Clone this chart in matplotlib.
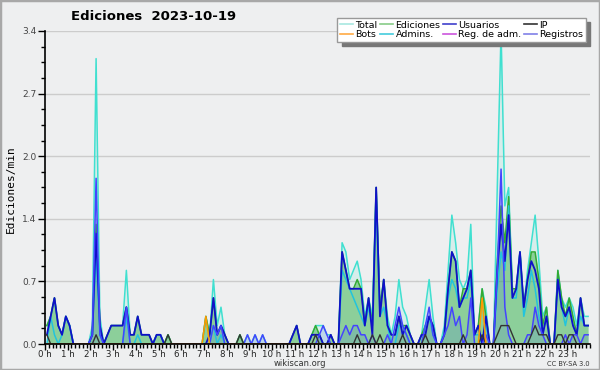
import matplotlib
matplotlib.use('Agg')
import matplotlib.pyplot as plt
from matplotlib.lines import Line2D
from matplotlib.patches import Rectangle
from matplotlib.ticker import MultipleLocator
import numpy as np

# ediciones/min, un valor cada 10 minutos (0:00 ... 23:50), 12 valores = 2 horas por fila
total = [
    0.2, 0.3, 0.5, 0.2, 0.1, 0.3, 0.2, 0, 0, 0, 0, 0,
    0.2, 3.1, 0.3, 0, 0.1, 0.2, 0.2, 0.2, 0.2, 0.8, 0.1, 0.1,
    0.3, 0.1, 0.1, 0.1, 0, 0.1, 0.1, 0, 0.1, 0, 0, 0,
    0, 0, 0, 0, 0, 0, 0.3, 0.1, 0.7, 0.2, 0.4, 0.1,
    0, 0, 0, 0.1, 0, 0.1, 0, 0.1, 0, 0.1, 0, 0,
    0, 0, 0, 0, 0, 0.1, 0.2, 0, 0, 0, 0.1, 0.2,
    0.2, 0.2, 0.1, 0.1, 0, 0, 1.1, 1.0, 0.7, 0.8, 0.9, 0.7,
    0.3, 0.5, 0.3, 1.7, 0.4, 0.7, 0.3, 0.1, 0.3, 0.7, 0.4, 0.3,
    0.1, 0, 0, 0.1, 0.4, 0.7, 0.3, 0, 0, 0.2, 0.8, 1.4,
    1.1, 0.7, 0.6, 0.7, 1.3, 0.1, 0.2, 0.6, 0.4, 0, 0, 1.7,
    3.4, 1.5, 1.7, 0.6, 0.6, 1.0, 0.4, 0.8, 1.1, 1.4, 0.9, 0.3,
    0.4, 0, 0, 0.8, 0.5, 0.4, 0.5, 0.4, 0.2, 0.5, 0.3, 0.3,
]
ediciones = [
    0.2, 0.3, 0.5, 0.2, 0.1, 0.3, 0.2, 0, 0, 0, 0, 0,
    0.1, 1.3, 0.2, 0, 0.1, 0.2, 0.2, 0.2, 0.2, 0.4, 0.1, 0.1,
    0.3, 0.1, 0.1, 0.1, 0, 0.1, 0.1, 0, 0.1, 0, 0, 0,
    0, 0, 0, 0, 0, 0, 0.3, 0.1, 0.5, 0.1, 0.2, 0.1,
    0, 0, 0, 0.1, 0, 0, 0, 0, 0, 0, 0, 0,
    0, 0, 0, 0, 0, 0.1, 0.2, 0, 0, 0, 0.1, 0.2,
    0.1, 0, 0, 0.1, 0, 0, 1.0, 0.8, 0.6, 0.6, 0.7, 0.6,
    0.2, 0.5, 0.2, 1.7, 0.4, 0.7, 0.2, 0.1, 0.1, 0.3, 0.2, 0.2,
    0.1, 0, 0, 0.1, 0.2, 0.3, 0.2, 0, 0, 0.1, 0.6, 1.0,
    0.9, 0.4, 0.6, 0.6, 0.8, 0.1, 0.2, 0.6, 0.3, 0, 0, 0.9,
    1.5, 1.1, 1.6, 0.6, 0.6, 1.0, 0.4, 0.7, 1.0, 1.0, 0.7, 0.2,
    0.4, 0, 0, 0.8, 0.5, 0.3, 0.5, 0.3, 0.1, 0.5, 0.2, 0.2,
]
usuarios = [
    0.1, 0.3, 0.5, 0.2, 0.1, 0.3, 0.2, 0, 0, 0, 0, 0,
    0.1, 1.2, 0.2, 0, 0.1, 0.2, 0.2, 0.2, 0.2, 0.4, 0.1, 0.1,
    0.3, 0.1, 0.1, 0.1, 0, 0.1, 0.1, 0, 0, 0, 0, 0,
    0, 0, 0, 0, 0, 0, 0, 0.1, 0.5, 0.1, 0.2, 0.1,
    0, 0, 0, 0, 0, 0, 0, 0, 0, 0, 0, 0,
    0, 0, 0, 0, 0, 0.1, 0.2, 0, 0, 0, 0.1, 0.1,
    0.1, 0, 0, 0.1, 0, 0, 1.0, 0.8, 0.6, 0.6, 0.6, 0.6,
    0.2, 0.5, 0.1, 1.7, 0.3, 0.7, 0.2, 0.1, 0.1, 0.3, 0.1, 0.2,
    0.1, 0, 0, 0.1, 0.1, 0.3, 0.2, 0, 0, 0.1, 0.6, 1.0,
    0.9, 0.4, 0.5, 0.6, 0.8, 0.1, 0.2, 0, 0.3, 0, 0, 0.8,
    1.3, 0.9, 1.4, 0.5, 0.6, 1.0, 0.4, 0.7, 0.9, 0.8, 0.6, 0.1,
    0.3, 0, 0, 0.7, 0.4, 0.3, 0.4, 0.2, 0.1, 0.5, 0.2, 0.2,
]
ip = [
    0.1, 0, 0, 0, 0, 0, 0, 0, 0, 0, 0, 0,
    0, 0.1, 0, 0, 0, 0, 0, 0, 0, 0, 0, 0,
    0, 0, 0, 0, 0, 0, 0, 0, 0.1, 0, 0, 0,
    0, 0, 0, 0, 0, 0, 0, 0, 0, 0, 0, 0,
    0, 0, 0, 0.1, 0, 0, 0, 0, 0, 0, 0, 0,
    0, 0, 0, 0, 0, 0, 0, 0, 0, 0, 0, 0.1,
    0, 0, 0, 0, 0, 0, 0, 0, 0, 0, 0.1, 0,
    0, 0, 0.1, 0, 0.1, 0, 0, 0, 0, 0, 0.1, 0,
    0, 0, 0, 0, 0.1, 0, 0, 0, 0, 0, 0, 0,
    0, 0, 0.1, 0, 0, 0, 0, 0.1, 0, 0, 0, 0.1,
    0.2, 0.2, 0.2, 0.1, 0, 0, 0, 0, 0.1, 0.2, 0.1, 0.1,
    0.1, 0, 0, 0.1, 0.1, 0, 0.1, 0.1, 0, 0, 0, 0,
]
bots = [
    0, 0, 0, 0, 0, 0, 0, 0, 0, 0, 0, 0,
    0, 0, 0, 0, 0, 0, 0, 0, 0, 0, 0, 0,
    0, 0, 0, 0, 0, 0, 0, 0, 0, 0, 0, 0,
    0, 0, 0, 0, 0, 0, 0.3, 0, 0, 0, 0, 0,
    0, 0, 0, 0, 0, 0, 0, 0, 0, 0, 0, 0,
    0, 0, 0, 0, 0, 0, 0, 0, 0, 0, 0, 0,
    0, 0, 0, 0, 0, 0, 0, 0, 0, 0, 0, 0,
    0, 0, 0, 0, 0, 0, 0, 0, 0, 0, 0, 0,
    0, 0, 0, 0, 0, 0, 0, 0, 0, 0, 0, 0,
    0, 0, 0, 0, 0, 0, 0, 0.5, 0, 0, 0, 0,
    0, 0, 0, 0, 0, 0, 0, 0, 0, 0, 0, 0,
    0, 0, 0, 0, 0, 0, 0, 0, 0, 0, 0, 0,
]
admins = [
    0, 0.3, 0.1, 0, 0.1, 0.3, 0.2, 0, 0, 0, 0, 0,
    0.1, 1.0, 0.1, 0, 0, 0, 0, 0, 0, 0.3, 0, 0,
    0.1, 0, 0, 0, 0, 0.1, 0.1, 0, 0, 0, 0, 0,
    0, 0, 0, 0, 0, 0, 0, 0, 0.2, 0, 0.1, 0,
    0, 0, 0, 0, 0, 0, 0, 0, 0, 0, 0, 0,
    0, 0, 0, 0, 0, 0, 0, 0, 0, 0, 0, 0,
    0, 0, 0, 0, 0, 0, 0.8, 0.7, 0.6, 0.5, 0.4, 0.3,
    0.2, 0.4, 0.2, 1.6, 0.3, 0.4, 0.2, 0, 0, 0.2, 0.2, 0.1,
    0, 0, 0, 0, 0.2, 0.3, 0.1, 0, 0, 0.1, 0.5, 0.7,
    0.6, 0.4, 0.5, 0.5, 0.7, 0.1, 0.1, 0, 0.2, 0, 0, 0.6,
    1.0, 0.8, 1.5, 0.5, 0.5, 1.0, 0.3, 0.5, 0.8, 0.6, 0.3, 0.1,
    0.3, 0, 0, 0.7, 0.4, 0.2, 0.4, 0.2, 0.1, 0.3, 0.2, 0.2,
]
reg_adm = [
    0, 0, 0, 0, 0, 0, 0, 0, 0, 0, 0, 0,
    0, 0, 0, 0, 0, 0, 0, 0, 0, 0, 0, 0,
    0, 0, 0, 0, 0, 0, 0, 0, 0, 0, 0, 0,
    0, 0, 0, 0, 0, 0, 0, 0, 0, 0, 0, 0,
    0, 0, 0, 0, 0, 0, 0, 0, 0, 0, 0, 0,
    0, 0, 0, 0, 0, 0, 0, 0, 0, 0, 0, 0,
    0, 0, 0, 0, 0, 0, 0, 0, 0, 0, 0, 0,
    0, 0, 0, 0, 0, 0, 0, 0, 0, 0, 0, 0,
    0, 0, 0, 0, 0, 0, 0, 0, 0, 0, 0, 0,
    0, 0, 0, 0, 0, 0, 0, 0, 0, 0, 0, 0,
    0, 0, 0, 0, 0, 0, 0, 0, 0, 0, 0, 0,
    0, 0, 0, 0, 0, 0, 0, 0, 0, 0, 0, 0,
]
registros = [
    0, 0, 0, 0, 0, 0, 0, 0, 0, 0, 0, 0,
    0.1, 1.8, 0.1, 0, 0, 0, 0, 0, 0, 0.4, 0, 0,
    0, 0, 0, 0, 0, 0, 0, 0, 0, 0, 0, 0,
    0, 0, 0, 0, 0, 0, 0, 0, 0.2, 0.1, 0.2, 0,
    0, 0, 0, 0, 0, 0.1, 0, 0.1, 0, 0.1, 0, 0,
    0, 0, 0, 0, 0, 0, 0, 0, 0, 0, 0, 0,
    0.1, 0.2, 0.1, 0, 0, 0, 0.1, 0.2, 0.1, 0.2, 0.2, 0.1,
    0.1, 0, 0.1, 0, 0, 0, 0.1, 0, 0.2, 0.4, 0.2, 0.1,
    0, 0, 0, 0, 0.2, 0.4, 0.1, 0, 0, 0.1, 0.2, 0.4,
    0.2, 0.3, 0, 0.1, 0.5, 0, 0, 0, 0.1, 0, 0, 0.8,
    1.9, 0.4, 0.1, 0, 0, 0, 0, 0.1, 0.1, 0.4, 0.2, 0.1,
    0, 0, 0, 0, 0, 0.1, 0, 0.1, 0.1, 0, 0.1, 0.1,
]

hour_labels = [f"{h} h" for h in range(24)]
y_ticks = [0, 0.68, 1.36, 2.04, 2.72, 3.4]

# cada punto al centro de su intervalo de 10 min, en horas
x = (np.arange(len(total)) + 0.5) / 6.0

bg = '#eeeff0'
fig = plt.figure(figsize=(6, 3.7), dpi=100, facecolor=bg)
ax = fig.add_axes([45 / 600, 26 / 370, 545 / 600, 313 / 370])
ax.set_facecolor(bg)

# rellenos
ax.fill_between(x, total, color='#40e0d0', alpha=0.13, lw=0)
ax.fill_between(x, ediciones, color='#3cb043', alpha=0.48, lw=0)
ax.fill_between(x, registros, color='#4060e0', alpha=0.16, lw=0)

# lineas
ax.plot(x, total, color='#40e0d0', lw=1.1)
ax.plot(x, ediciones, color='#33aa33', lw=1.1)
ax.plot(x, admins, color='#22c4dd', lw=1.1)
ax.plot(x, usuarios, color='#1010c8', lw=1.3)
ax.plot(x, registros, color='#4444ff', lw=1.1)
ax.plot(x, ip, color='#333333', lw=1.0)
ax.plot(x, bots, color='#ff9900', lw=1.1)
ax.plot(x, reg_adm, color='#cc44dd', lw=1.0)

ax.set_xlim(0, 24)
ax.set_ylim(0, 3.4)
ax.set_xticks(range(24))
ax.set_xticklabels(hour_labels)
ax.xaxis.set_minor_locator(MultipleLocator(1 / 6))
ax.set_yticks(y_ticks)
ax.set_yticklabels([f"{v:.1f}" for v in y_ticks])
ax.yaxis.set_minor_locator(MultipleLocator(0.17))
ax.grid(axis='y', color='#cccccc', lw=1)
ax.set_axisbelow(True)

for s in ['top', 'right']:
    ax.spines[s].set_visible(False)
for s in ['left', 'bottom']:
    ax.spines[s].set_linewidth(1.2)
    ax.spines[s].set_zorder(5)

ax.tick_params(axis='y', which='major', length=5, width=1, labelsize=6.5,
               labelcolor='#444444', pad=1)
ax.tick_params(axis='y', which='minor', length=3, width=1)
ax.tick_params(axis='x', which='major', length=4, width=1, labelsize=6.2,
               labelcolor='#222222', pad=0)
ax.tick_params(axis='x', which='minor', length=3, width=1)

# textos
fig.text(154 / 600, 1 - 17 / 370, "Ediciones  2023-10-19", ha='center', va='center',
         fontsize=9.5, fontweight='bold')
fig.text(11 / 600, 1 - 189 / 370, "Ediciones/min", rotation=90, ha='center', va='center',
         fontsize=8, family='DejaVu Sans Mono')
fig.text(300 / 600, 1 - 363.5 / 370, "wikiscan.org", ha='center', va='center',
         fontsize=6, color='#333333')
fig.text(590 / 600, 1 - 363.5 / 370, "CC BY-SA 3.0", ha='right', va='center',
         fontsize=4.8, color='#333333')

# leyenda (se rellena por columnas)
leg_items = [
    ("Total", '#a8e8e0'), ("Bots", '#ffaa44'),
    ("Ediciones", '#88cc88'), ("Admins.", '#44ccdd'),
    ("Usuarios", '#4040cc'), ("Reg. de adm.", '#cc55dd'),
    ("IP", '#333333'), ("Registros", '#8080e8'),
]
handles = [Line2D([], [], color=c, lw=1.2) for _, c in leg_items]
labels = [t for t, _ in leg_items]
fig.legend(handles, labels, ncol=4, loc='upper right',
           bbox_to_anchor=(591 / 600, 1 - 13 / 370), bbox_transform=fig.transFigure,
           prop={'size': 6.8}, handlelength=1.3, handletextpad=0.3, columnspacing=0.3,
           labelspacing=0.05, borderpad=0.3, fancybox=False, framealpha=1,
           edgecolor='#999999',
           shadow={'ox': 3, 'oy': -3, 'color': '#777777', 'alpha': 1})

fig.patches.append(Rectangle((0, 0), 1, 1, transform=fig.transFigure, fill=False,
                             edgecolor='#a8a8a8', lw=2.5))

fig.savefig('out.png', dpi=100, facecolor=bg)
